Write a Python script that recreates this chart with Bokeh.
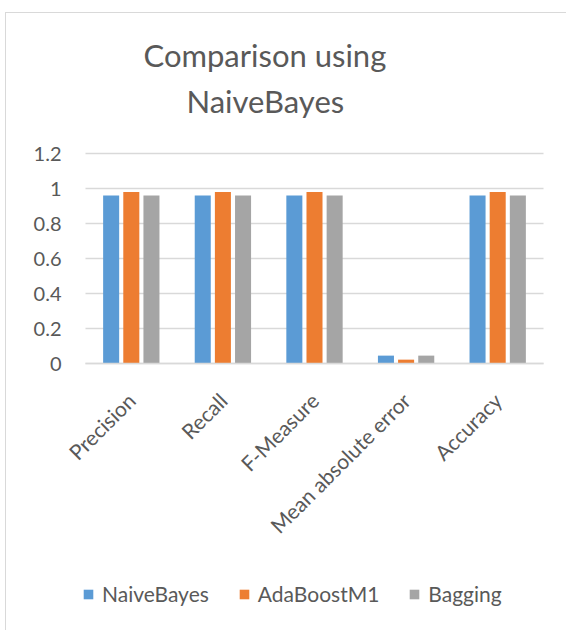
from math import pi
from bokeh.plotting import figure
from bokeh.models import (ColumnDataSource, Range1d, Legend, LegendItem, Title,
                          FixedTicker, InlineStyleSheet)
from bokeh.transform import dodge
from bokeh.embed import file_html
from bokeh.resources import INLINE

categories = ["Precision", "Recall", "F-Measure", "Mean absolute error", "Accuracy"]
series_names = ["NaiveBayes", "AdaBoostM1", "Bagging"]
naive_bayes = [0.96, 0.96, 0.96, 0.045, 0.96]
adaboost_m1 = [0.98, 0.98, 0.98, 0.022, 0.98]
bagging = [0.96, 0.96, 0.96, 0.045, 0.96]
y_ticks = [0, 0.2, 0.4, 0.6, 0.8, 1.0, 1.2]
y_tick_labels = ["0", "0.2", "0.4", "0.6", "0.8", "1", "1.2"]
title_lines = ["Comparison using", "NaiveBayes"]
colors = ["#5B9BD5", "#ED7D31", "#A5A5A5"]

FONT = "Lato"
TEXT_COLOR = "#595959"
GRID = "#D9D9D9"

n = len(categories)
centers = [i + 0.5 for i in range(n)]          # category slots 0..n on the x scale
src = ColumnDataSource(dict(xc=centers, nb=naive_bayes, ada=adaboost_m1, bag=bagging))

border_css = InlineStyleSheet(css="""
:host::after {
  content: ''; position: absolute; left: 5px; top: 12px; width: 800px; height: 800px;
  border-left: 1.5px solid #D9D9D9; border-top: 1.5px solid #D9D9D9;
  pointer-events: none; z-index: 10;
}
""")

# the frame covers the whole area below the title; plot slots are 91.6 px wide and
# 1 value unit is 175 px; category block starts 85 px from the left, zero line 267 px
# above the bottom, and 15 px of headroom above the top gridline keeps its label visible
PX_X, PX_Y = 91.6, 175.0
x_range = Range1d(-85 / PX_X, n + 23 / PX_X)
y_range = Range1d(-267 / PX_Y, 1.2 + 15 / PX_Y)

p = figure(width=566, height=630, x_range=x_range, y_range=y_range,
           output_backend="svg", toolbar_location=None,
           min_border_left=0, min_border_right=0, min_border_top=138, min_border_bottom=0,
           stylesheets=[border_css])
p.outline_line_color = None
p.background_fill_color = "white"
p.border_fill_color = "white"

renderers = []
for col, off, c in zip(["nb", "ada", "bag"], [-0.22, 0.0, 0.22], colors):
    r = p.vbar(x=dodge("xc", off), top=col, bottom=0, width=0.175, source=src,
               fill_color=c, line_color=None)
    renderers.append(r)

p.xgrid.grid_line_color = None
p.ygrid.grid_line_color = None

# y axis at the left edge of the categories; its inward ticks serve as gridlines
yt = FixedTicker(ticks=y_ticks)
p.yaxis.fixed_location = 0
p.yaxis.ticker = yt
p.yaxis.level = "underlay"
p.yaxis.major_label_overrides = {t: l for t, l in zip(y_ticks, y_tick_labels)}
p.yaxis.axis_line_color = None
p.yaxis.major_tick_in = int(round(n * PX_X))
p.yaxis.major_tick_out = 0
p.yaxis.major_tick_line_color = GRID
p.yaxis.major_tick_line_width = 1.5
p.yaxis.minor_tick_line_color = None
p.yaxis.major_label_text_font = FONT
p.yaxis.major_label_text_font_size = "20px"
p.yaxis.major_label_text_color = TEXT_COLOR
p.yaxis.major_label_standoff = 24

# x axis on the zero line with category names
p.xaxis.fixed_location = 0
p.xaxis.bounds = (0, n)
p.xaxis.ticker = FixedTicker(ticks=centers)
p.xaxis.major_label_overrides = {c: name for c, name in zip(centers, categories)}
p.xaxis.axis_line_color = GRID
p.xaxis.axis_line_width = 1.5
p.xaxis.major_tick_line_color = None
p.xaxis.minor_tick_line_color = None
p.xaxis.major_label_orientation = pi / 4
p.xaxis.major_label_text_font = FONT
p.xaxis.major_label_text_font_size = "21px"
p.xaxis.major_label_text_color = TEXT_COLOR
p.xaxis.major_label_standoff = 27

# title: lower line added first so it sits nearest the frame
for txt, sb, off in [(title_lines[1], 38, 186), (title_lines[0], -26, 143)]:
    p.add_layout(Title(text=txt, align="left", offset=off, text_font=FONT, text_font_size="31px",
                       text_font_style="normal", text_color=TEXT_COLOR, standoff=sb), "above")

legend = Legend(items=[LegendItem(label=s, renderers=[r]) for s, r in zip(series_names, renderers)],
                orientation="horizontal", location=(82, 24),
                glyph_width=12, glyph_height=12, label_standoff=8, spacing=29,
                padding=0, margin=0, border_line_color=None, background_fill_alpha=0,
                label_text_font=FONT, label_text_font_size="21px", label_text_color=TEXT_COLOR,
                label_height=20)
p.add_layout(legend, "center")

open("out.html", "w").write(file_html(p, INLINE))
